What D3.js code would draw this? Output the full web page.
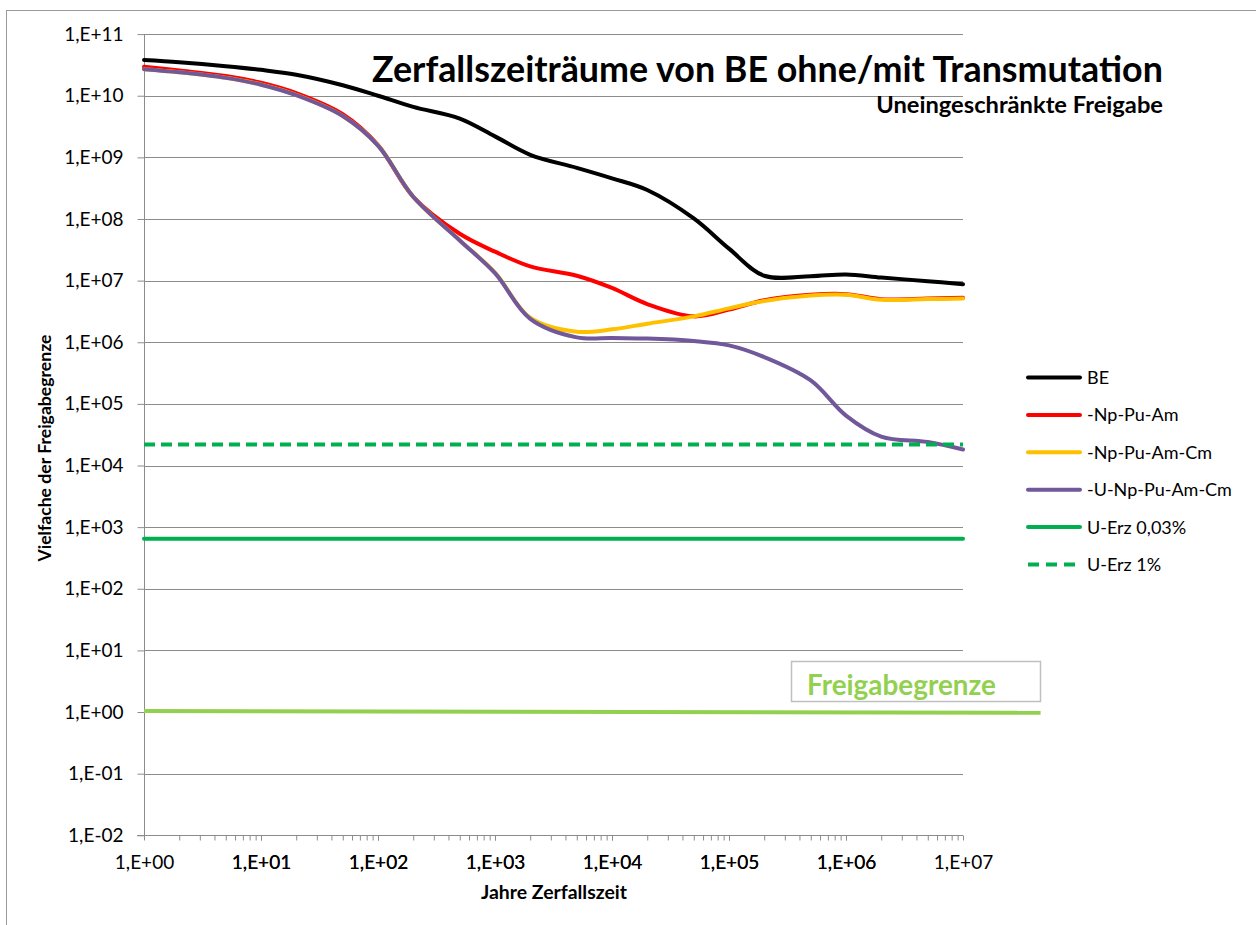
<!DOCTYPE html>
<html>
<head>
<meta charset="utf-8">
<script src="https://cdn.jsdelivr.net/npm/d3@7"></script>
<style>
  body { margin: 0; background: #fff; }
  svg text { font-family: Lato, "Open Sans", sans-serif; }
</style>
</head>
<body>
<div id="chart"></div>
<script>
// Jahre nach Entladung (x-Werte, log)
var years = [1, 2, 5, 10, 20, 50, 100, 200, 500, 1e3, 2e3, 5e3, 1e4, 2e4, 5e4, 1e5, 2e5, 5e5, 1e6, 2e6, 5e6, 1e7];

// Vielfache der Freigabegrenze je Serie
var be = [3.8e10, 3.5e10, 3.02e10, 2.63e10, 2.19e10, 1.48e10, 1.0e10, 6.6e9, 4.27e9, 2.19e9, 1.1e9, 6.76e8,
          4.57e8, 2.95e8, 1.02e8, 3.3e7, 1.2e7, 1.18e7, 1.26e7, 1.12e7, 9.8e6, 8.7e6];
var npPuAm = [2.95e10, 2.57e10, 2.09e10, 1.62e10, 1.1e10, 5.0e9, 1.58e9, 2.29e8, 5.75e7, 2.95e7, 1.7e7, 1.2e7,
              7.6e6, 4.17e6, 2.63e6, 3.39e6, 4.79e6, 5.89e6, 6.03e6, 5.01e6, 5.13e6, 5.25e6];
var npPuAmCm = [2.7e10, 2.41e10, 1.96e10, 1.52e10, 1.03e10, 4.7e9, 1.56e9, 2.3e8, 4.5e7, 1.35e7, 2.5e6, 1.48e6,
                1.62e6, 2.0e6, 2.63e6, 3.55e6, 4.68e6, 5.75e6, 5.89e6, 4.9e6, 5.01e6, 5.13e6];
var uNpPuAmCm = [2.69e10, 2.4e10, 1.95e10, 1.51e10, 1.02e10, 4.68e9, 1.55e9, 2.29e8, 4.47e7, 1.32e7, 2.4e6, 1.2e6,
                 1.17e6, 1.15e6, 1.05e6, 8.9e5, 5.75e5, 2.4e5, 6.46e4, 2.95e4, 2.4e4, 1.82e4];
var uErz003 = [650, 650];
var uErz1 = [2.2e4, 2.2e4];
var erzYears = [1, 1e7];

// Freigabegrenze (geht rechts über die Achse hinaus)
var freigabeYears = [1, 4.6e7];
var freigabe = [1.04, 0.97];

var yTickValues = [1e-2, 1e-1, 1e0, 1e1, 1e2, 1e3, 1e4, 1e5, 1e6, 1e7, 1e8, 1e9, 1e10, 1e11];
var xTickValues = [1, 1e1, 1e2, 1e3, 1e4, 1e5, 1e6, 1e7];

var seriesNames = ["BE", "-Np-Pu-Am", "-Np-Pu-Am-Cm", "-U-Np-Pu-Am-Cm", "U-Erz 0,03%", "U-Erz 1%"];
var seriesColors = ["#000000", "#ff0000", "#ffc000", "#71589a", "#00b050", "#00b050"];

var width = 1256, height = 925;

var svg = d3.select("#chart").append("svg")
    .attr("width", width)
    .attr("height", height);

// Rahmen des Diagramms
svg.append("rect")
    .attr("x", 6.5).attr("y", 10.5)
    .attr("width", 1400).attr("height", 1000)
    .attr("fill", "#fff")
    .attr("stroke", "#9a9a9a");

var x = d3.scaleLog().domain([1, 1e7]).range([144, 963]);
var y = d3.scaleLog().domain([1e-2, 1e11]).range([835.3, 34.1]);

// Beschriftung 1,E+05 usw.
function expFormat(v) {
    var e = Math.round(Math.log10(v));
    return "1,E" + (e < 0 ? "-" : "+") + String(Math.abs(e)).padStart(2, "0");
}

// Gitterlinien
svg.append("g").selectAll("line")
    .data(yTickValues.slice(1))
    .enter().append("line")
    .attr("x1", 144).attr("x2", 963)
    .attr("y1", function(d) { return Math.round(y(d)) + 0.5; })
    .attr("y2", function(d) { return Math.round(y(d)) + 0.5; })
    .attr("stroke", "#8c8c8c")
    .attr("stroke-width", 1);

// y-Achse
var yAxis = d3.axisLeft(y).tickValues(yTickValues).tickFormat(expFormat).tickSize(7).tickPadding(14);
var gy = svg.append("g").attr("transform", "translate(144.5,0)").call(yAxis);
gy.select(".domain").attr("stroke", "#8c8c8c").attr("d", "M0," + y(1e-2) + "V" + y(1e11));
gy.selectAll(".tick line").attr("stroke", "#8c8c8c");
gy.selectAll(".tick text").attr("font-size", 19).attr("fill", "#000")
    .attr("font-family", "Lato, sans-serif");

// x-Achse mit kleinen Strichen
var minorTicks = [];
for (var dec = 0; dec < 7; dec++) {
    for (var k = 1; k <= 10; k++) minorTicks.push(k * Math.pow(10, dec));
}
var xAxis = d3.axisBottom(x).tickValues(minorTicks)
    .tickFormat(function(d) { return xTickValues.indexOf(d) >= 0 ? expFormat(d) : ""; })
    .tickSize(5).tickPadding(15);
var gx = svg.append("g").attr("transform", "translate(0," + (Math.round(y(1e-2)) + 0.5) + ")").call(xAxis);
gx.select(".domain").attr("stroke", "#8c8c8c").attr("d", "M137,0H963");
gx.selectAll(".tick line").attr("stroke", "#8c8c8c");
gx.selectAll(".tick text").attr("font-size", 19).attr("fill", "#000")
    .attr("font-family", "Lato, sans-serif");

// Linien
var line = d3.line()
    .x(function(d) { return x(d[0]); })
    .y(function(d) { return y(d[1]); })
    .curve(d3.curveCatmullRom);

var seriesData = [
    d3.zip(years, be),
    d3.zip(years, npPuAm),
    d3.zip(years, npPuAmCm),
    d3.zip(years, uNpPuAmCm),
    d3.zip(erzYears, uErz003),
    d3.zip(erzYears, uErz1)
];

svg.append("g").selectAll("path")
    .data(seriesData)
    .enter().append("path")
    .attr("d", line)
    .attr("fill", "none")
    .attr("stroke", function(d, i) { return seriesColors[i]; })
    .attr("stroke-width", 4)
    .attr("stroke-dasharray", function(d, i) { return i == 5 ? "11,6" : null; })
    .attr("stroke-linecap", function(d, i) { return i == 5 ? "butt" : "round"; });

// Freigabegrenze mit Textfeld
svg.append("rect")
    .attr("x", 791.5).attr("y", 661.5)
    .attr("width", 249).attr("height", 40)
    .attr("fill", "#fff")
    .attr("stroke", "#c0c0c0")
    .attr("stroke-width", 1.5);

svg.append("path")
    .attr("d", line(d3.zip(freigabeYears, freigabe)))
    .attr("fill", "none")
    .attr("stroke", "#92d050")
    .attr("stroke-width", 4);

// Text auf gewünschte Breite bringen
function fitText(sel, w) {
    var size = +sel.attr("font-size");
    var len = sel.node().getComputedTextLength();
    sel.attr("font-size", (size * w / len).toFixed(2));
}

fitText(svg.append("text")
    .attr("x", 807).attr("y", 695)
    .attr("font-size", 22).attr("font-weight", "bold")
    .attr("fill", "#92d050")
    .text("Freigabegrenze"), 189);

// Titel
fitText(svg.append("text")
    .attr("x", 372).attr("y", 82)
    .attr("font-size", 36).attr("font-weight", "bold")
    .text("Zerfallszeiträume von BE ohne/mit Transmutation"), 791);

fitText(svg.append("text")
    .attr("x", 1163).attr("y", 113)
    .attr("text-anchor", "end")
    .attr("font-size", 18).attr("font-weight", "bold")
    .text("Uneingeschränkte Freigabe"), 287);

// Achsentitel
fitText(svg.append("text")
    .attr("x", 554).attr("y", 899)
    .attr("text-anchor", "middle")
    .attr("font-size", 15).attr("font-weight", "bold")
    .text("Jahre Zerfallszeit"), 146);

fitText(svg.append("text")
    .attr("transform", "translate(51,448) rotate(-90)")
    .attr("text-anchor", "middle")
    .attr("font-size", 15).attr("font-weight", "bold")
    .text("Vielfache der Freigabegrenze"), 227);

// Legende
var legend = svg.append("g").selectAll("g")
    .data(seriesNames)
    .enter().append("g")
    .attr("transform", function(d, i) { return "translate(1026," + (377.5 + i * 37.4) + ")"; });

legend.append("line")
    .attr("x1", 2).attr("x2", 54)
    .attr("stroke", function(d, i) { return seriesColors[i]; })
    .attr("stroke-width", 4)
    .attr("stroke-dasharray", function(d, i) { return i == 5 ? "11,7" : null; })
    .attr("stroke-linecap", function(d, i) { return i == 5 ? "butt" : "round"; });

legend.append("text")
    .attr("x", 61).attr("y", 6.5)
    .attr("font-size", 18)
    .text(function(d) { return d; });
</script>
</body>
</html>
